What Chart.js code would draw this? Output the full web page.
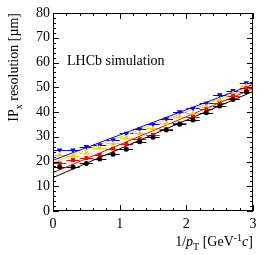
<!DOCTYPE html>
<html>
<head>
<meta charset="utf-8">
<script src="https://cdn.jsdelivr.net/npm/chart.js@4.4.1/dist/chart.umd.min.js"></script>
<style>
  html, body { margin: 0; padding: 0; background: #fff; }
</style>
</head>
<body>
<canvas id="chart" width="266" height="255"></canvas>
<script>
// bin centres in 1/pT and half bin width
const binCentres = [0.1, 0.3, 0.5, 0.7, 0.9, 1.1, 1.3, 1.5, 1.7, 1.9, 2.1, 2.3, 2.5, 2.7, 2.9];
const binHalf = [0.1, 0.1, 0.1, 0.1, 0.1, 0.1, 0.1, 0.1, 0.1, 0.1, 0.1, 0.1, 0.1, 0.1, 0.1];

// resolution points [um]
const blackRes  = [17.8, 17.8, 19.2, 21.0, 22.9, 24.9, 28.0, 29.8, 32.7, 35.1, 36.8, 39.7, 42.4, 45.1, 48.2];
const redRes    = [19.2, 20.6, 21.4, 22.7, 25.2, 27.1, 29.0, 30.7, 33.1, 35.4, 38.1, 41.1, 43.5, 46.5, 49.6];
const yellowRes = [22.7, 22.3, 23.5, 25.5, 27.3, 29.6, 31.4, 33.4, 35.4, 38.1, 39.5, 42.2, 44.8, 47.5, 50.5];
const blueRes   = [24.6, 24.6, 26.0, 26.7, 28.7, 31.4, 33.1, 35.0, 37.2, 40.1, 41.5, 43.5, 46.9, 48.6, 51.8];

// linear fits: value at 1/pT = 0 and 1/pT = 3
const fitX      = [0, 3];
const blackFit  = [13.5, 48.3];
const redFit    = [15.5, 49.4];
const yellowFit = [19.5, 50.4];
const blueFit   = [20.5, 51.1];

const xTicks = [0, 1, 2, 3];
const yTicks = [0, 10, 20, 30, 40, 50, 60, 70, 80];

const BLACK = '#000000', RED = '#ff0000', YELLOW = '#ffcc00', BLUE = '#0000ff';
const serif = '"Liberation Serif", "DejaVu Serif", serif';

function pts(xs, ys) {
  return xs.map((x, i) => ({ x: x, y: ys[i] }));
}

function fitSet(ys, col) {
  return {
    data: pts(fitX, ys), showLine: true, borderColor: col, borderWidth: 1,
    pointRadius: 0, fill: false, order: 1
  };
}

function pointSet(ys, col, style, r, rot) {
  return {
    data: pts(binCentres, ys), showLine: false, errX: binHalf,
    pointStyle: style, pointRadius: r, rotation: rot || 0,
    backgroundColor: col, borderColor: col, borderWidth: 0, order: 0
  };
}

// horizontal error bars (bin widths)
const errorBars = {
  id: 'errorBars',
  beforeDatasetsDraw(chart) {
    const ctx = chart.ctx, xs = chart.scales.x, ys = chart.scales.y;
    ctx.save();
    ctx.lineWidth = 1;
    chart.data.datasets.forEach(ds => {
      if (!ds.errX) return;
      ctx.strokeStyle = ds.borderColor;
      ds.data.forEach((p, i) => {
        const py = Math.round(ys.getPixelForValue(p.y)) + 0.5;
        ctx.beginPath();
        ctx.moveTo(xs.getPixelForValue(p.x - ds.errX[i]), py);
        ctx.lineTo(xs.getPixelForValue(p.x + ds.errX[i]), py);
        ctx.stroke();
      });
    });
    ctx.restore();
  }
};

// draws text pieces one after another; each piece {t, it, sub, sup}
function richText(ctx, parts, x, y, size, alignRight) {
  const fontOf = p => (p.it ? 'italic ' : '') + Math.round((p.sub || p.sup) ? size * 0.72 : size) + 'px ' + serif;
  let total = 0;
  parts.forEach(p => { ctx.font = fontOf(p); total += ctx.measureText(p.t).width; });
  let cx = alignRight ? x - total : x;
  parts.forEach(p => {
    ctx.font = fontOf(p);
    const dy = p.sub ? size * 0.3 : (p.sup ? -size * 0.38 : 0);
    ctx.fillText(p.t, cx, y + dy);
    cx += ctx.measureText(p.t).width;
  });
}

// frame, inward ticks on all four sides, titles and label
const frame = {
  id: 'frame',
  afterDraw(chart) {
    const ctx = chart.ctx, a = chart.chartArea;
    const xs = chart.scales.x, ys = chart.scales.y;
    ctx.save();
    ctx.strokeStyle = '#000';
    ctx.lineWidth = 1;
    ctx.strokeRect(Math.round(a.left) + 0.5, Math.round(a.top) + 0.5,
                   Math.round(a.right - a.left) - 1, Math.round(a.bottom - a.top) - 1);
    ctx.beginPath();
    for (let i = 0; i <= 15; i++) {
      const v = i * 0.2;
      const px = Math.round(xs.getPixelForValue(v)) + 0.5;
      const len = (i % 5 === 0) ? 6 : 3;
      ctx.moveTo(px, a.bottom); ctx.lineTo(px, a.bottom - len);
      ctx.moveTo(px, a.top); ctx.lineTo(px, a.top + len);
    }
    for (let i = 0; i <= 40; i++) {
      const v = i * 2;
      const py = Math.round(ys.getPixelForValue(v)) + 0.5;
      const len = (i % 5 === 0) ? 6 : 3;
      ctx.moveTo(a.left, py); ctx.lineTo(a.left + len, py);
      ctx.moveTo(a.right, py); ctx.lineTo(a.right - len, py);
    }
    ctx.stroke();

    ctx.fillStyle = '#000';
    ctx.textBaseline = 'alphabetic';
    ctx.font = '14px ' + serif;
    ctx.fillText('LHCb simulation', a.left + 14, 65);

    richText(ctx, [
      { t: '1/' }, { t: 'p', it: true }, { t: 'T', sub: true },
      { t: ' [GeV' }, { t: '-1', sup: true }, { t: 'c', it: true }, { t: ']' }
    ], a.right, 246, 14, true);

    ctx.translate(18, a.top);
    ctx.rotate(-Math.PI / 2);
    richText(ctx, [
      { t: 'IP' }, { t: 'x', sub: true }, { t: ' resolution [\u00b5m]' }
    ], 0, 0, 14, true);
    ctx.restore();
  }
};

new Chart(document.getElementById('chart'), {
  type: 'scatter',
  data: {
    datasets: [
      fitSet(blackFit, BLACK), fitSet(redFit, RED), fitSet(yellowFit, YELLOW), fitSet(blueFit, BLUE),
      pointSet(blackRes, BLACK, 'circle', 2.5),
      pointSet(redRes, RED, 'rect', 2.8),
      pointSet(yellowRes, YELLOW, 'triangle', 3.2),
      pointSet(blueRes, BLUE, 'triangle', 3.2, 180)
    ]
  },
  options: {
    responsive: false,
    animation: false,
    devicePixelRatio: 1,
    layout: { padding: { top: 13, right: 13, left: 0, bottom: 0 } },
    plugins: { legend: { display: false }, tooltip: { enabled: false } },
    scales: {
      x: {
        type: 'linear', min: 0, max: 3,
        afterBuildTicks: s => { s.ticks = xTicks.map(v => ({ value: v })); },
        afterFit: s => { s.height = 44; },
        grid: { display: false, drawTicks: false },
        border: { display: false },
        ticks: { color: '#000', padding: 5, maxRotation: 0, font: { family: serif, size: 14 } }
      },
      y: {
        type: 'linear', min: 0, max: 80,
        afterBuildTicks: s => { s.ticks = yTicks.map(v => ({ value: v })); },
        afterFit: s => { s.width = 53; },
        grid: { display: false, drawTicks: false },
        border: { display: false },
        ticks: { color: '#000', padding: 3, font: { family: serif, size: 14 } }
      }
    }
  },
  plugins: [errorBars, frame]
});
</script>
</body>
</html>
